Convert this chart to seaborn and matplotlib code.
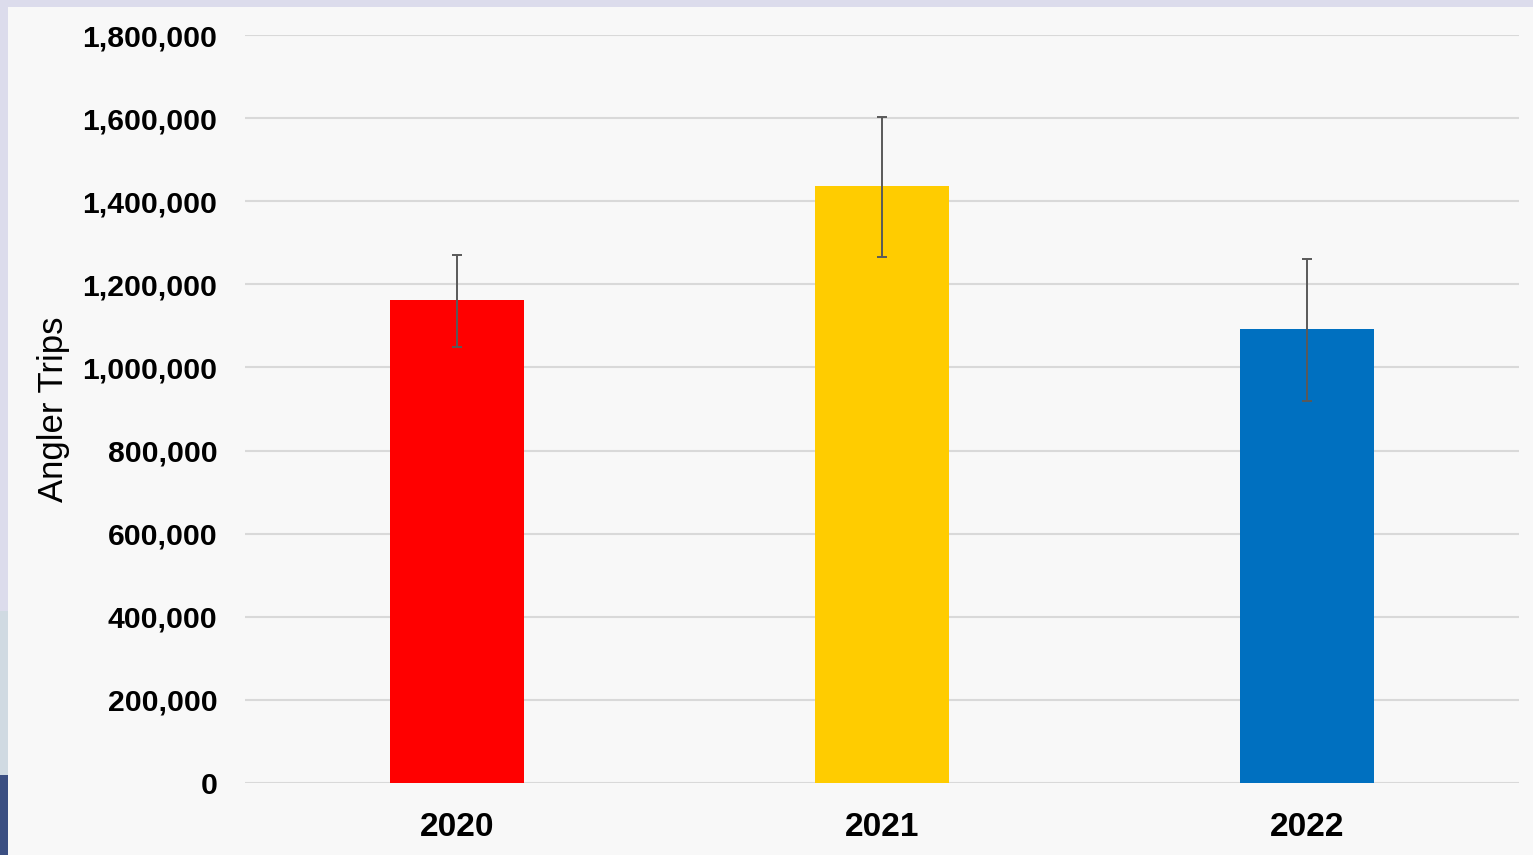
import matplotlib
matplotlib.use("Agg")
import matplotlib.pyplot as plt
import matplotlib.ticker as mticker
from matplotlib.patches import Rectangle
import seaborn as sns
import pandas as pd

years = ["2020", "2021", "2022"]
trips = [1162000, 1437000, 1092000]
err_low = [1049000, 1266000, 919000]
err_high = [1271000, 1603000, 1261000]
colors = ["#FF0000", "#FFCC00", "#0070C0"]
y_ticks = [0, 200000, 400000, 600000, 800000, 1000000, 1200000, 1400000, 1600000, 1800000]

df = pd.DataFrame({"year": years, "trips": trips})

sns.set_theme(style="white")
plt.rcParams["font.family"] = ["Liberation Sans", "DejaVu Sans"]

fig = plt.figure(figsize=(15.33, 8.55), dpi=100)
fig.patch.set_facecolor("#F8F8F8")

W, H = 1533, 855
# decorative frame strips
fig.patches.append(Rectangle((0, 1 - 7 / H), 1, 7 / H, transform=fig.transFigure,
                             facecolor="#DCDCEC", edgecolor="none", zorder=0))
fig.patches.append(Rectangle((0, 1 - 611 / H), 8 / W, 611 / H, transform=fig.transFigure,
                             facecolor="#DCDCEC", edgecolor="none", zorder=0))
fig.patches.append(Rectangle((0, 1 - 775 / H), 8 / W, 164 / H, transform=fig.transFigure,
                             facecolor="#D0DAE2", edgecolor="none", zorder=0))
fig.patches.append(Rectangle((0, 0), 8 / W, 80 / H, transform=fig.transFigure,
                             facecolor="#3B4F82", edgecolor="none", zorder=0))

ax = fig.add_axes([245 / W, 1 - 783 / H, 1274 / W, 748 / H])
ax.set_facecolor("#F8F8F8")

sns.barplot(data=df, x="year", y="trips", hue="year", palette=dict(zip(years, colors)),
            width=0.316, legend=False, ax=ax, zorder=3, linewidth=0, saturation=1)

yerr = [[t - lo for t, lo in zip(trips, err_low)], [hi - t for t, hi in zip(trips, err_high)]]
ax.errorbar(range(len(years)), trips, yerr=yerr, fmt="none", ecolor="#595959",
            elinewidth=1.4, capsize=3.6, capthick=1.4, zorder=4)

ax.set_xlim(-0.5, 2.5)
ax.set_ylim(0, 1800000)
ax.set_yticks(y_ticks)
ax.yaxis.set_major_formatter(mticker.FuncFormatter(lambda v, p: f"{int(v):,}"))
ax.grid(axis="y", color="#D9D9D9", linewidth=1.5, zorder=0)
ax.grid(axis="x", visible=False)
ax.set_axisbelow(True)
for s in ax.spines.values():
    s.set_visible(False)

ax.tick_params(axis="y", length=0, pad=20, labelsize=21.7)
ax.tick_params(axis="x", length=0, pad=21, labelsize=24)
for lbl in ax.get_yticklabels() + ax.get_xticklabels():
    lbl.set_fontweight("bold")
    lbl.set_color("black")

ax.set_xlabel("")
ax.set_ylabel("Angler Trips", fontsize=25, color="black")
ax.yaxis.set_label_coords(-0.1374, 0.5)

fig.savefig("out.png", dpi=100, facecolor=fig.get_facecolor())
